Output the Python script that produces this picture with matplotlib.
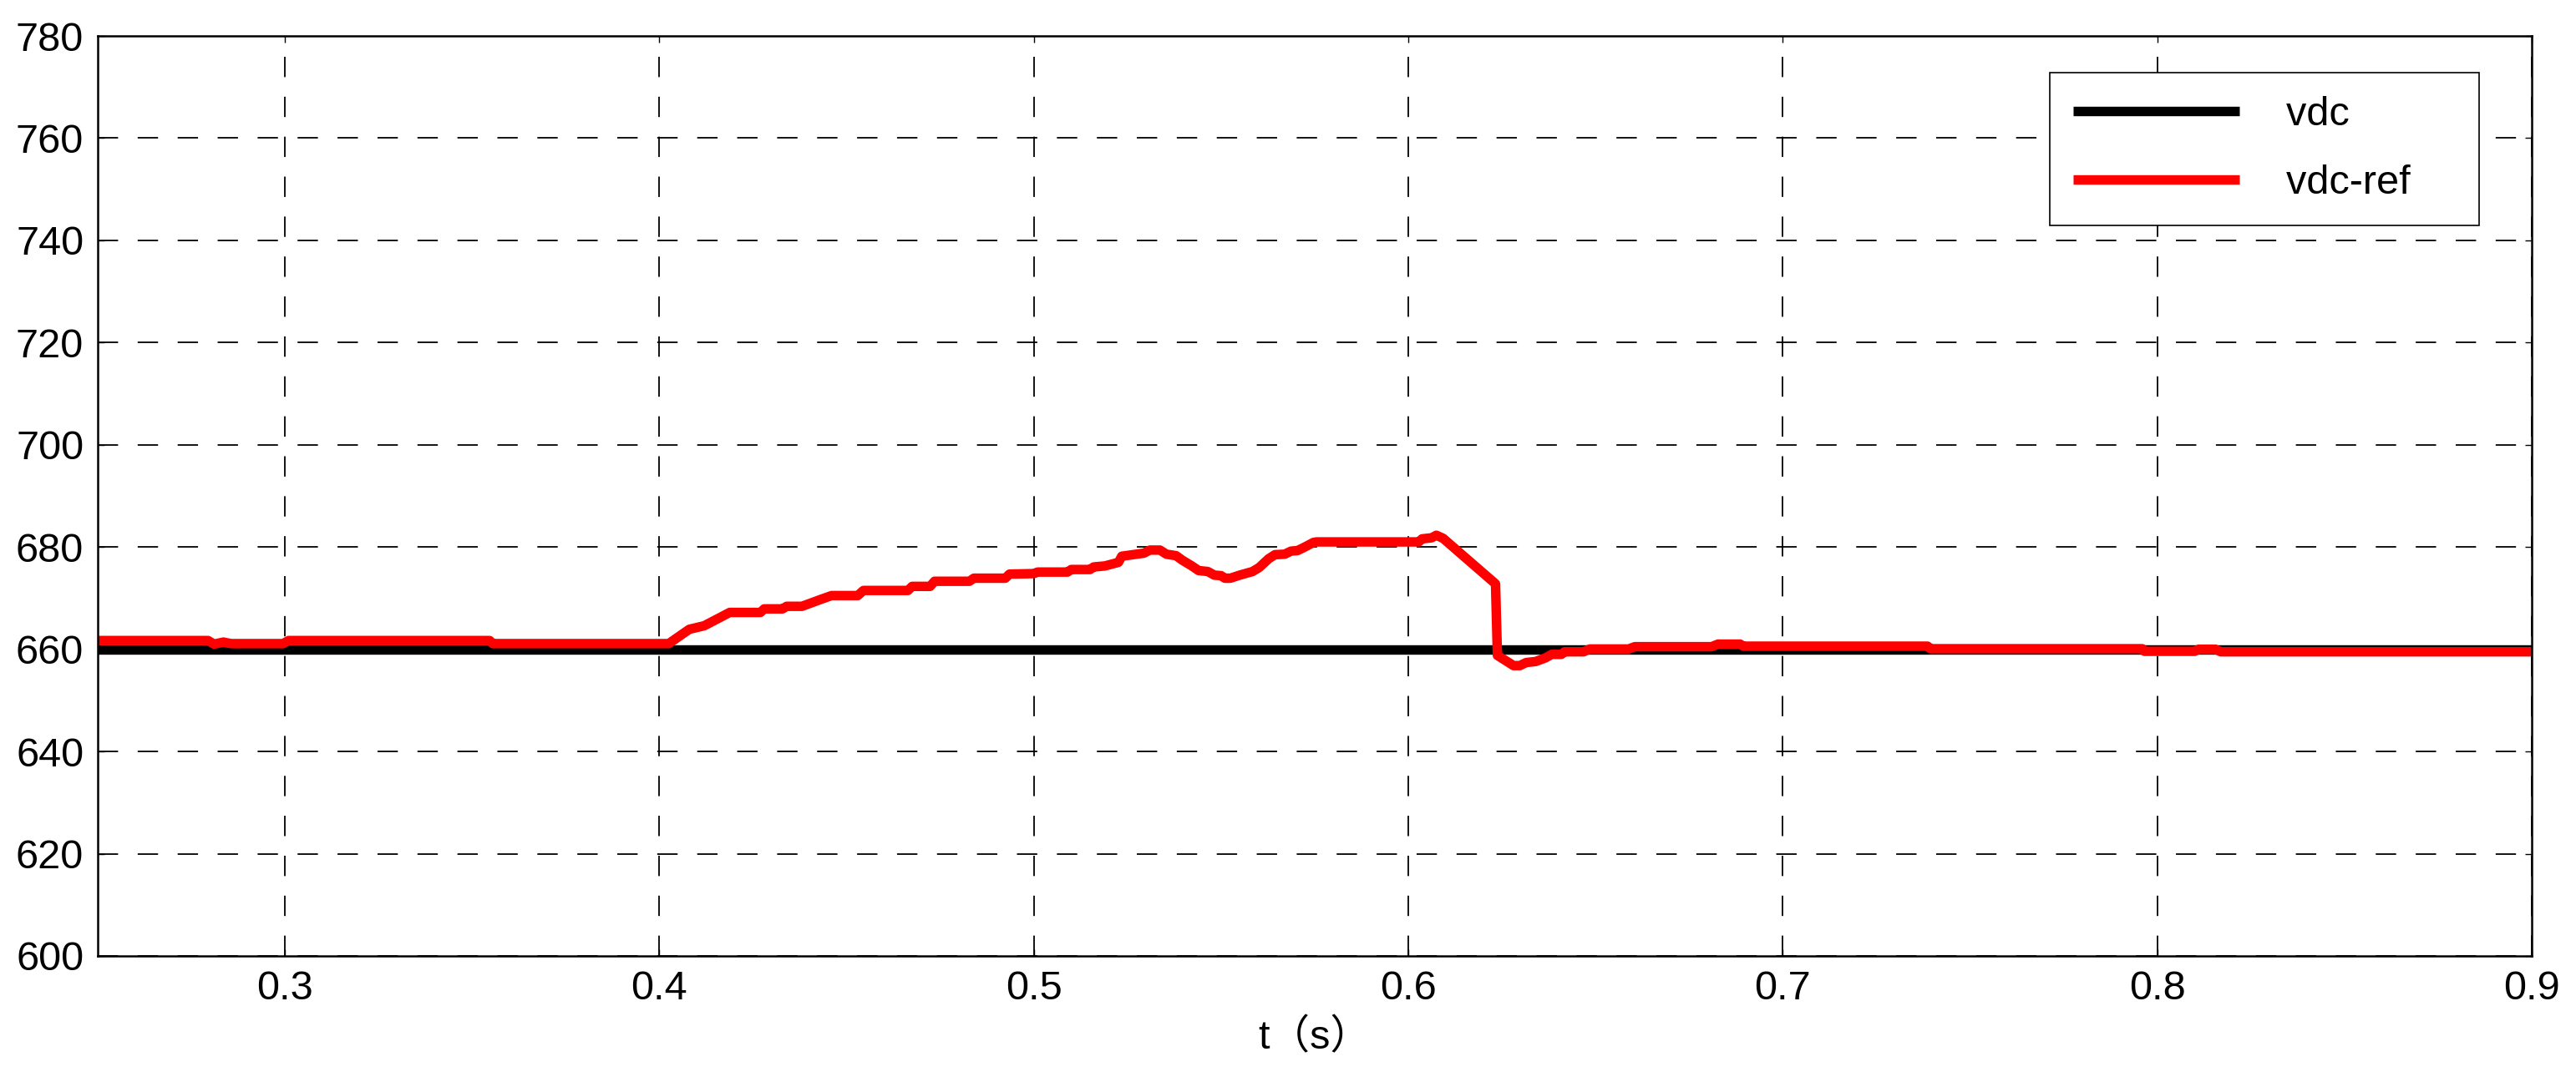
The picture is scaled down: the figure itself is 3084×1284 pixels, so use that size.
import numpy as np
import matplotlib
matplotlib.use("Agg")
import matplotlib.pyplot as plt

plt.rcParams['font.family'] = ['Liberation Sans', 'Noto Sans CJK SC', 'DejaVu Sans']

# time axis and dc link voltages
t_vdc = [0.25, 0.9]
vdc = [660.0, 660.0]

t_ref = [0.2500, 0.2795, 0.2811, 0.2836, 0.2856, 0.2995, 0.3010, 0.3547, 0.3555, 0.4025,
         0.4080, 0.4120, 0.4188, 0.4270, 0.4280, 0.4329, 0.4340, 0.4381, 0.4433, 0.4460,
         0.4530, 0.4545, 0.4664, 0.4675, 0.4723, 0.4735, 0.4828, 0.4840, 0.4924, 0.4935,
         0.5000, 0.5010, 0.5090, 0.5100, 0.5150, 0.5160, 0.5190, 0.5226, 0.5235, 0.5294,
         0.5310, 0.5337, 0.5354, 0.5380, 0.5397, 0.5422, 0.5440, 0.5465, 0.5482, 0.5500,
         0.5510, 0.5525, 0.5550, 0.5584, 0.5602, 0.5627, 0.5644, 0.5670, 0.5687, 0.5704,
         0.5721, 0.5747, 0.5755, 0.6028, 0.6037, 0.6062, 0.6075, 0.6093, 0.6233, 0.6238,
         0.6281, 0.6298, 0.6315, 0.6340, 0.6366, 0.6383, 0.6409, 0.6417, 0.6468, 0.6485,
         0.6588, 0.6605, 0.6810, 0.6827, 0.6886, 0.6895, 0.7387, 0.7394, 0.7960, 0.7966,
         0.8100, 0.8111, 0.8155, 0.8170, 0.9000]
vdc_ref = [661.7, 661.7, 661.0, 661.4, 661.1, 661.1, 661.7, 661.7, 661.1, 661.1,
           663.9, 664.6, 667.2, 667.2, 667.9, 667.9, 668.4, 668.4, 669.8, 670.5,
           670.5, 671.5, 671.5, 672.3, 672.3, 673.3, 673.3, 673.9, 673.9, 674.7,
           674.8, 675.1, 675.1, 675.6, 675.6, 676.1, 676.3, 677.0, 678.2, 678.8,
           679.4, 679.4, 678.6, 678.3, 677.4, 676.3, 675.4, 675.2, 674.5, 674.4,
           673.9, 673.9, 674.5, 675.2, 676.0, 677.7, 678.5, 678.6, 679.2, 679.3,
           679.9, 680.9, 681.0, 681.0, 681.6, 681.8, 682.3, 681.7, 672.8, 658.8,
           656.8, 656.8, 657.4, 657.6, 658.3, 659.0, 659.0, 659.5, 659.5, 660.05,
           660.05, 660.5, 660.5, 661.0, 661.0, 660.6, 660.6, 660.1, 660.1, 659.6,
           659.6, 660.0, 660.0, 659.5, 659.5]

xticks = [0.3, 0.4, 0.5, 0.6, 0.7, 0.8, 0.9]
yticks = [600, 620, 640, 660, 680, 700, 720, 740, 760, 780]

fig = plt.figure(figsize=(30.84, 12.84), dpi=100)
ax = fig.add_axes([0.0379, 0.1083, 0.9449, 0.8582])

ax.plot(t_vdc, vdc, color='black', lw=8.2, solid_capstyle='butt', label='vdc')
ax.plot(t_ref, vdc_ref, color='#ff0000', lw=8.2, solid_capstyle='butt',
        solid_joinstyle='round', label='vdc-ref')

ax.set_xlim(0.25, 0.9)
ax.set_ylim(600, 780)
ax.set_xticks(xticks)
ax.set_yticks(yticks)
ax.set_xticklabels([str(x) for x in xticks])
ax.set_yticklabels([str(y) for y in yticks])
ax.grid(True, color='black', lw=1.3, linestyle=(0, (13.5, 13)))
ax.tick_params(direction='in', length=6, width=1, labelsize=35, pad=12,
               top=True, right=True)
for s in ax.spines.values():
    s.set_linewidth(1.8)
    s.set_color('black')

ax.set_xlabel('t（s）', fontsize=35, labelpad=10)

leg = ax.legend(loc='upper right', bbox_to_anchor=(0.9784, 0.960), fontsize=35,
                handlelength=4.1, handletextpad=1.15, labelspacing=0.75,
                borderpad=0.58, borderaxespad=0, fancybox=False, framealpha=1,
                edgecolor='black')
leg.get_frame().set_linewidth(1.2)
# a little extra room right of the labels, as in the reference box
for txt in leg.get_texts():
    txt.set_text(txt.get_text() + '    ')

fig.savefig('out.png', dpi=100, facecolor='white')
